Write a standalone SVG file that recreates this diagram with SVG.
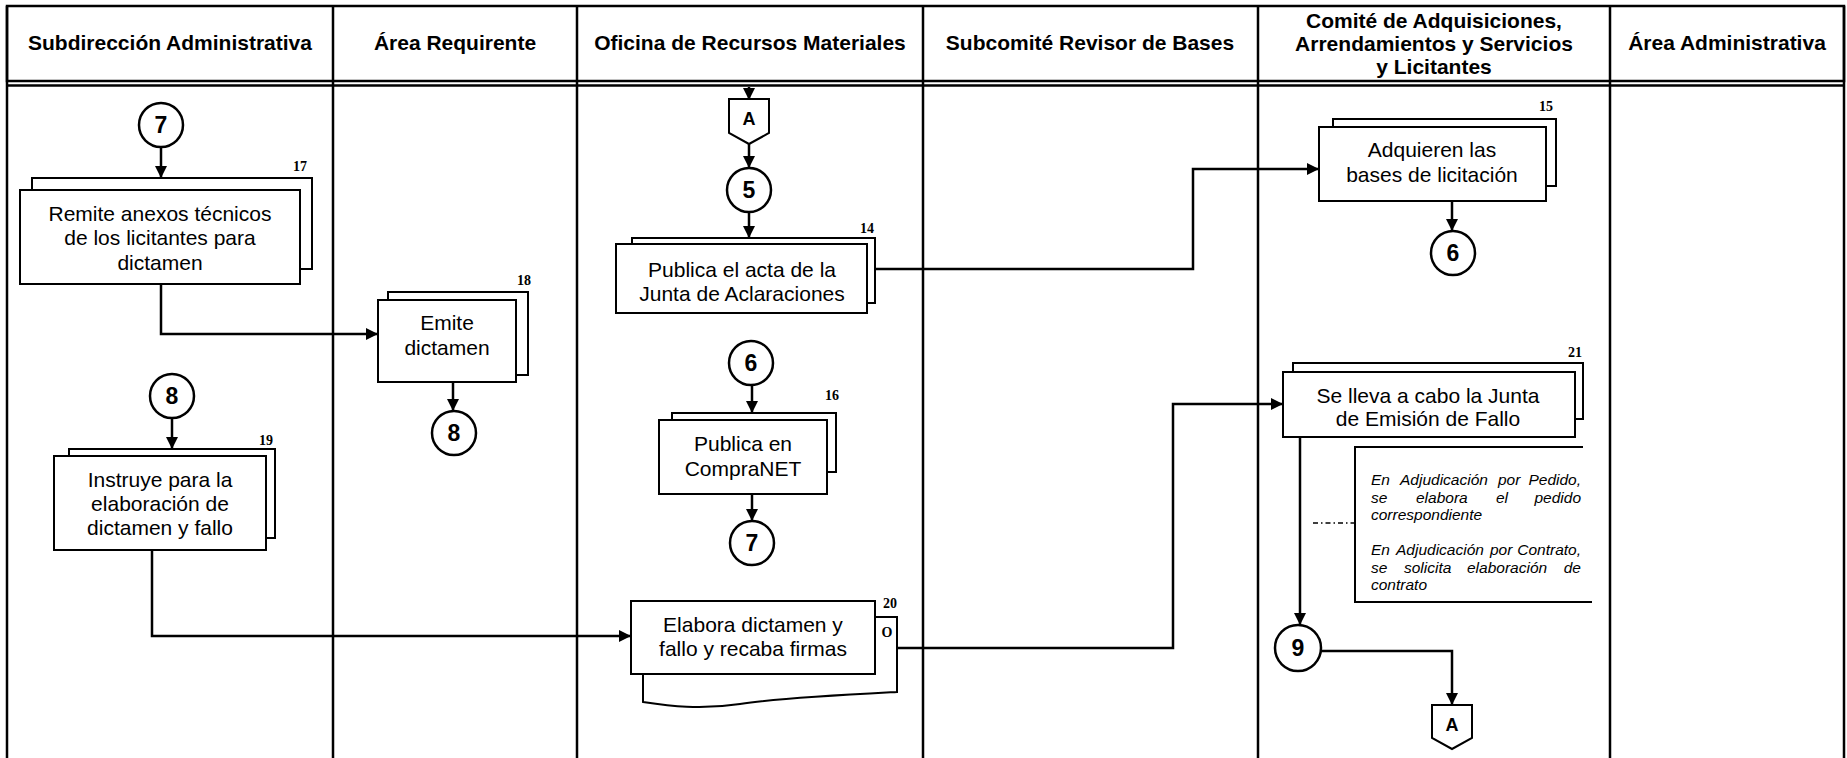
<svg xmlns="http://www.w3.org/2000/svg" width="1847" height="758" viewBox="0 0 1847 758">
  <style>
    .lane { stroke: #000; stroke-width: 2.5; fill: none; }
    .hdr { font-family: "Liberation Sans", Arial, sans-serif; font-weight: bold; font-size: 21px; text-anchor: middle; fill: #000; }
    .box { fill: #fff; stroke: #000; stroke-width: 2; }
    .txt { font-family: "Liberation Sans", Arial, sans-serif; font-size: 21px; text-anchor: middle; fill: #000; }
    .num { font-family: "Liberation Serif", "Times New Roman", serif; font-weight: bold; font-size: 14px; text-anchor: middle; fill: #000; }
    .circ { fill: #fff; stroke: #000; stroke-width: 2.5; }
    .ctxt { font-family: "Liberation Sans", Arial, sans-serif; font-weight: bold; font-size: 23px; text-anchor: middle; fill: #000; }
    .pg { fill: #fff; stroke: #000; stroke-width: 2; }
    .pgt { font-family: "Liberation Sans", Arial, sans-serif; font-weight: bold; font-size: 18px; text-anchor: middle; fill: #000; }
    .conn { fill: none; stroke: #000; stroke-width: 2.5; }
    .note { font-family: "Liberation Sans", Arial, sans-serif; font-style: italic; font-size: 15.5px; fill: #000; }
  </style>
  <defs>
    <marker id="arrow" markerUnits="userSpaceOnUse" markerWidth="14" markerHeight="12" refX="12" refY="6" orient="auto">
      <path d="M0,0 L12,6 L0,12 Z" fill="#000"/>
    </marker>
  </defs>

  <rect x="0" y="0" width="1847" height="758" fill="#fff"/>

  <!-- swimlane frame: header row, double rule, lane dividers -->
  <g id="lanes">
    <rect class="lane" x="7" y="6" width="1837" height="75" stroke-width="3"/>
    <line class="lane" x1="7" y1="85.5" x2="1844" y2="85.5" stroke-width="2.5"/>
    <line class="lane" x1="7" y1="6" x2="7" y2="758"/>
    <line class="lane" x1="1844" y1="6" x2="1844" y2="758"/>
    <line class="lane" x1="333" y1="6" x2="333" y2="758"/>
    <line class="lane" x1="577" y1="6" x2="577" y2="758"/>
    <line class="lane" x1="923" y1="6" x2="923" y2="758"/>
    <line class="lane" x1="1258" y1="6" x2="1258" y2="758"/>
    <line class="lane" x1="1610" y1="6" x2="1610" y2="758"/>
    <text class="hdr" x="170" y="50">Subdirección Administrativa</text>
    <text class="hdr" x="455" y="50">Área Requirente</text>
    <text class="hdr" x="750" y="50">Oficina de Recursos Materiales</text>
    <text class="hdr" x="1090" y="50">Subcomité Revisor de Bases</text>
    <text class="hdr" x="1434" y="28">Comité de Adquisiciones,</text>
    <text class="hdr" x="1434" y="51">Arrendamientos y Servicios</text>
    <text class="hdr" x="1434" y="74">y Licitantes</text>
    <text class="hdr" x="1727" y="50">Área Administrativa</text>
  </g>

  <!-- connectors -->
  <g id="connectors">
    <line class="conn" x1="749" y1="87" x2="749" y2="100" marker-end="url(#arrow)"/>
    <line class="conn" x1="749" y1="144" x2="749" y2="168" marker-end="url(#arrow)"/>
    <line class="conn" x1="749" y1="212" x2="749" y2="238" marker-end="url(#arrow)"/>
    <path class="conn" d="M875,269 H1193 V169 H1319" marker-end="url(#arrow)"/>
    <line class="conn" x1="1452" y1="201" x2="1452" y2="231" marker-end="url(#arrow)"/>
    <line class="conn" x1="752" y1="385" x2="752" y2="413" marker-end="url(#arrow)"/>
    <line class="conn" x1="752" y1="494" x2="752" y2="521" marker-end="url(#arrow)"/>
    <line class="conn" x1="161" y1="147" x2="161" y2="178" marker-end="url(#arrow)"/>
    <path class="conn" d="M161,284 V334 H378" marker-end="url(#arrow)"/>
    <line class="conn" x1="453" y1="381" x2="453" y2="411" marker-end="url(#arrow)"/>
    <line class="conn" x1="172" y1="418" x2="172" y2="449" marker-end="url(#arrow)"/>
    <path class="conn" d="M152,550 V636 H631" marker-end="url(#arrow)"/>
    <path class="conn" d="M897,648 H1173 V404 H1283" marker-end="url(#arrow)"/>
    <line class="conn" x1="1300" y1="437" x2="1300" y2="625" marker-end="url(#arrow)"/>
    <path class="conn" d="M1321,651 H1452 V705" marker-end="url(#arrow)"/>
    <line x1="1313" y1="523" x2="1355" y2="523" stroke="#000" stroke-width="1.3" stroke-dasharray="5,3,1.5,3"/>
  </g>

  <!-- off-page connector A (entry) -->
  <g id="pageA-in">
    <path class="pg" d="M729,99 H769 V133 L749,144 L729,133 Z"/>
    <text class="pgt" x="749" y="125">A</text>
  </g>

  <!-- Subdirección Administrativa -->
  <g id="c7-sub">
    <circle class="circ" cx="161" cy="125" r="22"/>
    <text class="ctxt" x="161" y="133">7</text>
  </g>
  <g id="act17">
    <rect class="box" x="32" y="178" width="280" height="91"/>
    <rect class="box" x="20" y="190" width="280" height="94"/>
    <text class="num" x="300" y="171">17</text>
    <text class="txt" x="160" y="221">Remite anexos técnicos</text>
    <text class="txt" x="160" y="245">de los licitantes para</text>
    <text class="txt" x="160" y="270">dictamen</text>
  </g>
  <g id="c8-sub">
    <circle class="circ" cx="172" cy="396" r="22"/>
    <text class="ctxt" x="172" y="404">8</text>
  </g>
  <g id="act19">
    <rect class="box" x="69" y="449" width="206" height="89"/>
    <rect class="box" x="54" y="456" width="212" height="94"/>
    <text class="num" x="266" y="445">19</text>
    <text class="txt" x="160" y="487">Instruye para la</text>
    <text class="txt" x="160" y="511">elaboración de</text>
    <text class="txt" x="160" y="535">dictamen y fallo</text>
  </g>

  <!-- Área Requirente -->
  <g id="act18">
    <rect class="box" x="388" y="292" width="140" height="83"/>
    <rect class="box" x="378" y="300" width="138" height="82"/>
    <text class="num" x="524" y="285">18</text>
    <text class="txt" x="447" y="330">Emite</text>
    <text class="txt" x="447" y="355">dictamen</text>
  </g>
  <g id="c8-req">
    <circle class="circ" cx="454" cy="433" r="22"/>
    <text class="ctxt" x="454" y="441">8</text>
  </g>

  <!-- Oficina de Recursos Materiales -->
  <g id="c5">
    <circle class="circ" cx="749" cy="190" r="22"/>
    <text class="ctxt" x="749" y="198">5</text>
  </g>
  <g id="act14">
    <rect class="box" x="632" y="238" width="243" height="65"/>
    <rect class="box" x="616" y="244" width="251" height="69"/>
    <text class="num" x="867" y="233">14</text>
    <text class="txt" x="742" y="277">Publica el acta de la</text>
    <text class="txt" x="742" y="301">Junta de Aclaraciones</text>
  </g>
  <g id="c6-ofi">
    <circle class="circ" cx="751" cy="363" r="22"/>
    <text class="ctxt" x="751" y="371">6</text>
  </g>
  <g id="act16">
    <rect class="box" x="672" y="413" width="164" height="59"/>
    <rect class="box" x="659" y="420" width="168" height="74"/>
    <text class="num" x="832" y="400">16</text>
    <text class="txt" x="743" y="451">Publica en</text>
    <text class="txt" x="743" y="476">CompraNET</text>
  </g>
  <g id="c7-ofi">
    <circle class="circ" cx="752" cy="543" r="22"/>
    <text class="ctxt" x="752" y="551">7</text>
  </g>
  <g id="act20">
    <path class="box" d="M875,617 H897 V692 C840,695 780,698 740,704 C700,710 670,706 643,702 V674"/>
    <rect class="box" x="631" y="601" width="244" height="73"/>
    <text class="num" x="890" y="608">20</text>
    <text class="num" x="887" y="637" font-size="12">O</text>
    <text class="txt" x="753" y="632">Elabora dictamen y</text>
    <text class="txt" x="753" y="656">fallo y recaba firmas</text>
  </g>

  <!-- Comité de Adquisiciones, Arrendamientos y Servicios y Licitantes -->
  <g id="act15">
    <rect class="box" x="1333" y="119" width="223" height="67"/>
    <rect class="box" x="1319" y="127" width="227" height="74"/>
    <text class="num" x="1546" y="111">15</text>
    <text class="txt" x="1432" y="157">Adquieren las</text>
    <text class="txt" x="1432" y="182">bases de licitación</text>
  </g>
  <g id="c6-com">
    <circle class="circ" cx="1453" cy="253" r="22"/>
    <text class="ctxt" x="1453" y="261">6</text>
  </g>
  <g id="act21">
    <rect class="box" x="1293" y="363" width="290" height="56"/>
    <rect class="box" x="1283" y="372" width="292" height="65"/>
    <text class="num" x="1575" y="357">21</text>
    <text class="txt" x="1428" y="403">Se lleva a cabo la Junta</text>
    <text class="txt" x="1428" y="426">de Emisión de Fallo</text>
  </g>
  <!-- annotation bracket with justified note text -->
  <g id="note21">
    <path d="M1583,447 H1355 V602 H1592" fill="none" stroke="#000" stroke-width="2"/>
    <text class="note" y="485">
      <tspan x="1371">En</tspan><tspan x="1400">Adjudicación</tspan><tspan x="1498">por</tspan><tspan x="1581" text-anchor="end">Pedido,</tspan>
    </text>
    <text class="note" y="503">
      <tspan x="1371">se</tspan><tspan x="1416">elabora</tspan><tspan x="1496">el</tspan><tspan x="1581" text-anchor="end">pedido</tspan>
    </text>
    <text class="note" x="1371" y="520">correspondiente</text>
    <text class="note" y="555">
      <tspan x="1371">En</tspan><tspan x="1396">Adjudicación</tspan><tspan x="1490">por</tspan><tspan x="1581" text-anchor="end">Contrato,</tspan>
    </text>
    <text class="note" y="573">
      <tspan x="1371">se</tspan><tspan x="1404">solicita</tspan><tspan x="1467">elaboración</tspan><tspan x="1581" text-anchor="end">de</tspan>
    </text>
    <text class="note" x="1371" y="590">contrato</text>
  </g>
  <g id="c9">
    <circle class="circ" cx="1298" cy="648" r="23"/>
    <text class="ctxt" x="1298" y="656">9</text>
  </g>
  <g id="pageA-out">
    <path class="pg" d="M1432,705 H1472 V738 L1452,749 L1432,738 Z"/>
    <text class="pgt" x="1452" y="731">A</text>
  </g>
</svg>
